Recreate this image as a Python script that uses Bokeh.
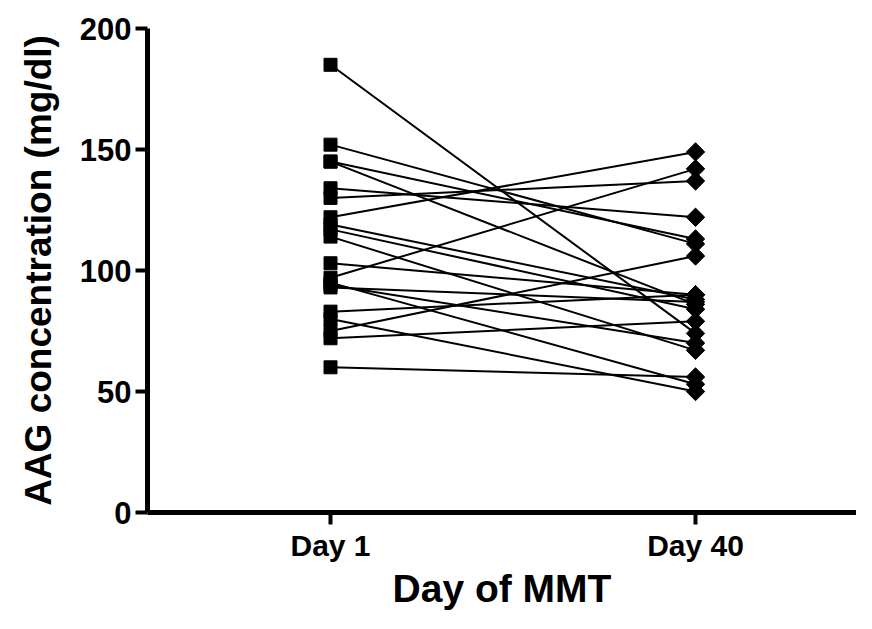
from bokeh.plotting import figure
from bokeh.models import ColumnDataSource, FixedTicker, Range1d
from bokeh.embed import file_html
from bokeh.resources import INLINE
import math

# Data
categories = ["Day 1", "Day 40"]
day1 = [185, 152, 145, 145, 134, 130, 122, 119, 117, 114, 103, 97, 95, 94, 93, 83, 80, 75, 72, 60]
day40 = [74, 111, 113, 86, 122, 137, 149, 88, 84, 67, 90, 142, 53, 70, 87, 90, 50, 106, 79, 56]
y_ticks = [0, 50, 100, 150, 200]

x1 = [1] * len(day1)
x2 = [2] * len(day40)
src = ColumnDataSource(dict(x0=x1, y0=day1, x1=x2, y1=day40))

FONT = "Liberation Sans"

p = figure(width=856, height=613, output_backend="svg", toolbar_location=None,
           x_range=Range1d(0.4986, 2.441), y_range=Range1d(0, 200),
           min_border_left=147, min_border_top=28, min_border_right=0, min_border_bottom=101)

p.segment(x0="x0", y0="y0", x1="x1", y1="y1", source=src, line_color="black", line_width=2)
p.scatter(x="x0", y="y0", source=src, marker="square", size=13, color="black")
p.scatter(x="x1", y="y1", source=src, marker="square", size=13, angle=math.pi / 4, color="black")

p.xgrid.visible = False
p.ygrid.visible = False
p.outline_line_color = None
p.background_fill_color = "white"
p.border_fill_color = "white"

p.xaxis.ticker = FixedTicker(ticks=[1, 2])
p.xaxis.major_label_overrides = {1: categories[0], 2: categories[1]}
p.yaxis.ticker = FixedTicker(ticks=y_ticks)

for ax in (p.xaxis, p.yaxis):
    ax.axis_line_width = 5
    ax.axis_line_color = "black"
    ax.major_tick_line_width = 4
    ax.major_tick_line_color = "black"
    ax.major_tick_in = 0
    ax.major_tick_out = 12
    ax.minor_tick_line_color = None
    ax.major_label_text_font = FONT
    ax.major_label_text_font_style = "bold"
    ax.major_label_text_color = "black"
    ax.axis_label_text_font = FONT
    ax.axis_label_text_font_style = "bold"
    ax.axis_label_text_color = "black"

p.xaxis.major_label_text_font_size = "30px"
p.yaxis.major_label_text_font_size = "31px"
p.xaxis.major_label_standoff = 4
p.yaxis.major_label_standoff = 4

p.xaxis.axis_label = "Day of MMT"
p.yaxis.axis_label = "AAG concentration (mg/dl)"
p.xaxis.axis_label_text_font_size = "39px"
p.yaxis.axis_label_text_font_size = "37px"
p.xaxis.axis_label_standoff = 2
p.yaxis.axis_label_standoff = 18

open("out.html", "w").write(file_html(p, INLINE))
